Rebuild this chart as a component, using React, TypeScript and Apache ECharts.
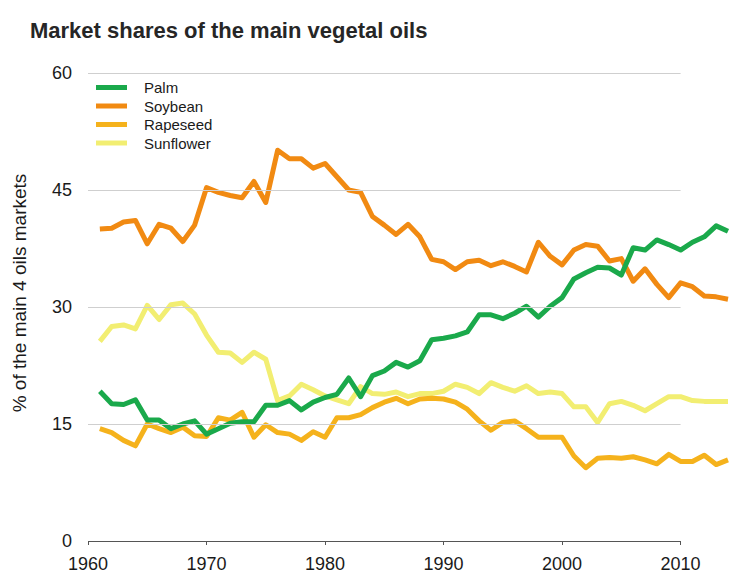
import React, { useEffect, useRef } from "react";
import * as echarts from "echarts";

const years = [
  1961, 1962, 1963, 1964, 1965, 1966, 1967, 1968, 1969, 1970,
  1971, 1972, 1973, 1974, 1975, 1976, 1977, 1978, 1979, 1980,
  1981, 1982, 1983, 1984, 1985, 1986, 1987, 1988, 1989, 1990,
  1991, 1992, 1993, 1994, 1995, 1996, 1997, 1998, 1999, 2000,
  2001, 2002, 2003, 2004, 2005, 2006, 2007, 2008, 2009, 2010,
  2011, 2012, 2013, 2014,
];

const palm = [
  19.2, 17.6, 17.5, 18.1, 15.5, 15.5, 14.4, 15.0, 15.4, 13.7,
  14.4, 15.1, 15.3, 15.3, 17.4, 17.4, 18.0, 16.8, 17.8, 18.4,
  18.8, 20.9, 18.5, 21.2, 21.8, 22.9, 22.3, 23.1, 25.8, 26.0,
  26.3, 26.8, 29.0, 29.0, 28.5, 29.2, 30.1, 28.7, 30.1, 31.2,
  33.6, 34.4, 35.1, 35.0, 34.1, 37.6, 37.3, 38.6, 38.0, 37.3,
  38.3, 39.0, 40.4, 39.7,
];

const soybean = [
  40.0, 40.1, 40.9, 41.1, 38.1, 40.6, 40.1, 38.4, 40.5, 45.3,
  44.7, 44.3, 44.0, 46.1, 43.4, 50.1, 49.0, 49.0, 47.8, 48.4,
  46.7, 45.0, 44.7, 41.6, 40.5, 39.3, 40.6, 39.0, 36.1, 35.8,
  34.8, 35.8, 36.0, 35.3, 35.8, 35.2, 34.5, 38.3, 36.5, 35.4,
  37.3, 38.0, 37.8, 35.9, 36.2, 33.3, 34.9, 32.9, 31.2, 33.1,
  32.6, 31.4, 31.3, 31.0,
];

const rapeseed = [
  14.4, 13.9, 12.9, 12.2, 15.0, 14.4, 13.9, 14.6, 13.5, 13.4,
  15.8, 15.5, 16.5, 13.3, 14.9, 13.9, 13.7, 12.9, 14.0, 13.3,
  15.8, 15.8, 16.2, 17.1, 17.8, 18.3, 17.6, 18.2, 18.3, 18.2,
  17.8, 16.9, 15.4, 14.2, 15.2, 15.4, 14.4, 13.3, 13.3, 13.3,
  10.9, 9.4, 10.6, 10.7, 10.6, 10.8, 10.4, 9.9, 11.1, 10.2,
  10.2, 11.0, 9.8, 10.4,
];

const sunflower = [
  25.6, 27.5, 27.7, 27.2, 30.2, 28.4, 30.3, 30.5, 29.1, 26.4,
  24.2, 24.1, 22.9, 24.2, 23.3, 18.0, 18.6, 20.1, 19.4, 18.6,
  18.1, 17.6, 19.8, 18.9, 18.8, 19.1, 18.5, 18.9, 18.9, 19.2,
  20.1, 19.7, 18.9, 20.3, 19.7, 19.2, 19.9, 18.9, 19.1, 18.9,
  17.2, 17.2, 15.2, 17.6, 17.9, 17.4, 16.7, 17.6, 18.5, 18.5,
  18.0, 17.9, 17.9, 17.9,
];

const legendOrder = ["Palm", "Soybean", "Rapeseed", "Sunflower"];
const yTicks = [0, 15, 30, 45, 60];
const xTicks = [1960, 1970, 1980, 1990, 2000, 2010];
const xDataEnd = 2014;

const COLORS: Record<string, string> = {
  Palm: "#1aa94b",
  Soybean: "#f18a12",
  Rapeseed: "#f5b21c",
  Sunflower: "#f2ee72",
};

const FONT = "'Liberation Sans', Arial, Helvetica, sans-serif";

function pairs(vals: number[]) {
  return years.map((y, i) => [y, vals[i]]);
}

export default function App() {
  const ref = useRef<HTMLDivElement>(null);
  useEffect(() => {
    document.body.style.margin = "0";
    if (!ref.current) return;
    const chart = echarts.init(ref.current, undefined, { renderer: "svg" });
    const mk = (name: string, vals: number[]) => ({
      name,
      type: "line",
      data: pairs(vals),
      showSymbol: false,
      symbol: "none",
      clip: false,
      lineStyle: { width: 5, color: COLORS[name], join: "round" },
      itemStyle: { color: COLORS[name] },
      emphasis: { disabled: true },
    });
    const xStart = xTicks[0];
    const xEnd = xTicks[xTicks.length - 1];
    const gridLines = yTicks
      .filter((v) => v > 0)
      .map((v) => [
        { coord: [xStart, v], lineStyle: { color: "#cfcfcf", width: 1, type: "solid" } },
        { coord: [xEnd, v] },
      ]);
    const axisLineSeg = [
      { coord: [xStart, 0], lineStyle: { color: "#555555", width: 1, type: "solid" } },
      { coord: [xEnd, 0] },
    ];
    chart.setOption({
      animation: false,
      textStyle: { fontFamily: FONT },
      title: {
        text: "Market shares of the main vegetal oils",
        left: 25,
        top: 14,
        textStyle: { fontSize: 22, fontWeight: "bold", color: "#262626", fontFamily: FONT },
      },
      legend: {
        data: legendOrder,
        orient: "vertical",
        left: 91,
        top: 75,
        itemWidth: 31,
        itemHeight: 5,
        itemGap: 3.5,
        icon: "rect",
        textStyle: { fontSize: 15, color: "#1a1a1a", fontFamily: FONT, padding: [0, 0, 0, 12] },
      },
      grid: { left: 88, right: 26, top: 73, bottom: 45, containLabel: false },
      xAxis: {
        type: "value",
        min: xStart,
        max: xDataEnd,
        interval: 10,
        axisLine: { show: false },
        axisTick: { show: true, length: 4, lineStyle: { color: "#555" }, customValues: xTicks },
        splitLine: { show: false },
        axisLabel: {
          fontSize: 18,
          color: "#1a1a1a",
          margin: 14,
          fontFamily: FONT,
          customValues: xTicks,
          formatter: (v: number) => String(v),
        },
      },
      yAxis: {
        type: "value",
        min: yTicks[0],
        max: yTicks[yTicks.length - 1],
        interval: 15,
        name: "% of the main 4 oils markets",
        nameLocation: "middle",
        nameRotate: 90,
        nameGap: 59,
        nameTextStyle: { fontSize: 19, color: "#1a1a1a", fontFamily: FONT, padding: [0, 0, 0, 28] },
        axisLine: { show: false },
        axisTick: { show: false },
        splitLine: { show: false },
        axisLabel: { fontSize: 18, color: "#1a1a1a", margin: 16, fontFamily: FONT },
      },
      series: [
        {
          name: "gridlines",
          type: "line",
          data: [],
          silent: true,
          markLine: {
            silent: true,
            symbol: ["none", "none"],
            label: { show: false },
            emphasis: { disabled: true },
            data: [...gridLines, axisLineSeg],
          },
        },
        mk("Sunflower", sunflower),
        mk("Rapeseed", rapeseed),
        mk("Soybean", soybean),
        mk("Palm", palm),
      ],
    });
    return () => chart.dispose();
  }, []);
  return <div ref={ref} style={{ width: 754, height: 586 }} />;
}
